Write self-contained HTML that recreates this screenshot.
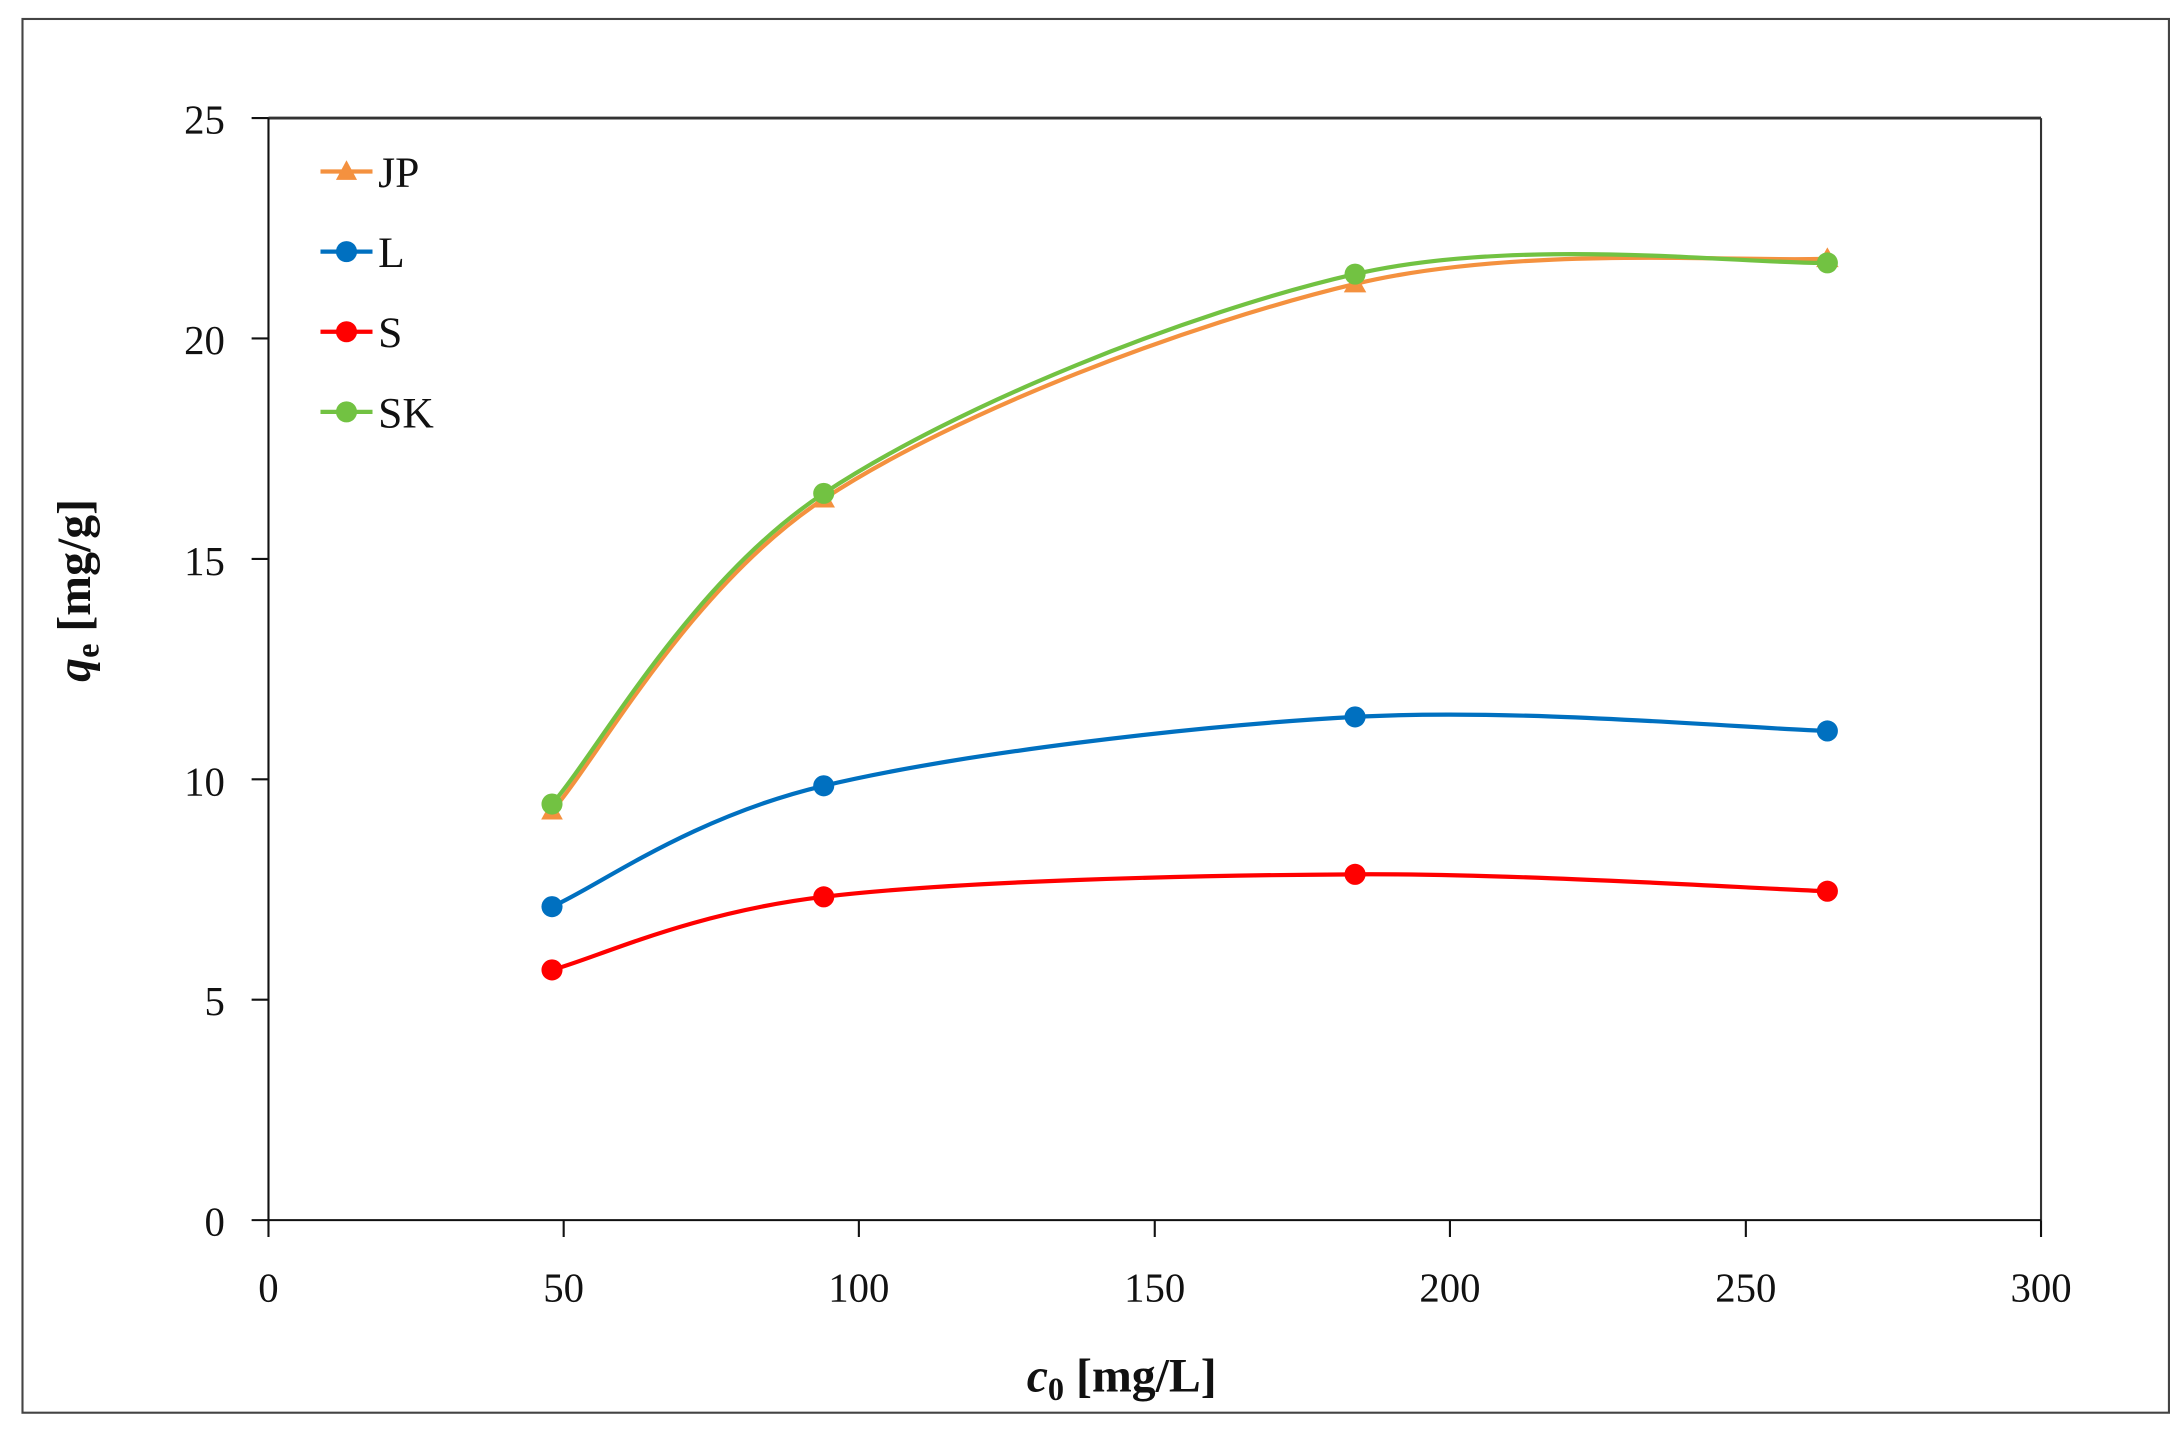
<!DOCTYPE html>
<html><head><meta charset="utf-8"><style>html,body{margin:0;padding:0;background:#fff}svg{display:block}</style></head>
<body>
<svg width="2183" height="1430" viewBox="0 0 1553 1017.3" preserveAspectRatio="none" xmlns="http://www.w3.org/2000/svg" font-family="Liberation Serif, serif">
<rect x="0" y="0" width="1553" height="1018" fill="#fff"/>
<rect x="16" y="13.5" width="1527" height="991.5" fill="none" stroke="#444" stroke-width="1.5"/>
<line x1="191" y1="84" x2="1452" y2="84" stroke="#333" stroke-width="2"/>
<line x1="1452" y1="84" x2="1452" y2="868" stroke="#333" stroke-width="1.5"/>
<line x1="191" y1="84" x2="191" y2="868" stroke="#111" stroke-width="1.5"/>
<line x1="191" y1="868" x2="1452" y2="868" stroke="#111" stroke-width="1.5"/>
<g stroke="#111" stroke-width="1.5">
<line x1="179" y1="84" x2="191" y2="84"/><line x1="179" y1="240.8" x2="191" y2="240.8"/><line x1="179" y1="397.6" x2="191" y2="397.6"/><line x1="179" y1="554.4" x2="191" y2="554.4"/><line x1="179" y1="711.2" x2="191" y2="711.2"/><line x1="179" y1="868" x2="191" y2="868"/>
<line x1="191" y1="868" x2="191" y2="880"/><line x1="401" y1="868" x2="401" y2="880"/><line x1="611" y1="868" x2="611" y2="880"/><line x1="821.5" y1="868" x2="821.5" y2="880"/><line x1="1031.5" y1="868" x2="1031.5" y2="880"/><line x1="1242" y1="868" x2="1242" y2="880"/><line x1="1452" y1="868" x2="1452" y2="880"/>
</g>
<g font-size="29" fill="#111" text-anchor="end">
<text x="160" y="95">25</text><text x="160" y="252">20</text><text x="160" y="409">15</text><text x="160" y="566">10</text><text x="160" y="722">5</text><text x="160" y="879">0</text>
</g>
<g font-size="29" fill="#111" text-anchor="middle">
<text x="191" y="926">0</text><text x="401" y="926">50</text><text x="611" y="926">100</text><text x="821.5" y="926">150</text><text x="1031.5" y="926">200</text><text x="1242" y="926">250</text><text x="1452" y="926">300</text>
</g>
<text x="798" y="990" font-size="34" font-weight="bold" text-anchor="middle" fill="#111"><tspan font-style="italic">c</tspan><tspan font-size="23" dy="6">0</tspan><tspan dy="-6"> [mg/L]</tspan></text>
<text transform="translate(64,420) rotate(-90)" font-size="34" font-weight="bold" text-anchor="middle" fill="#111"><tspan font-style="italic">q</tspan><tspan font-size="23" dy="6">e</tspan><tspan dy="-6"> [mg/g]</tspan></text>
<g fill="none" stroke-width="3">
<path d="M392.7,577 C425,540 490.8,417.5 586,355 C681,292.5 845,230.5 964,202 C1083,173.5 1244,187 1300,184" stroke="#F4913F"/>
<path d="M392.7,572 C425,535.2 490.8,413.8 586,351 C681,288.2 845,222.3 964,195 C1083,167.7 1244,188.3 1300,187" stroke="#72C242"/>
<path d="M392.7,645 C425,631 490.8,581.5 586,559 C681,536.5 845,516.5 964,510 C1083,503.5 1244,518.3 1300,520" stroke="#0070C0"/>
<path d="M392.7,690 C425,681.3 490.8,649.3 586,638 C681,626.7 845,622.7 964,622 C1083,621.3 1244,632 1300,634" stroke="#FF0000"/>
</g>
<g fill="#F4913F"><polygon points="392.7,569 385,583 400.4,583"/><polygon points="586,347 578,361 594,361"/><polygon points="964,194 956,208 972,208"/><polygon points="1300,176 1292,190 1308,190"/></g>
<g fill="#72C242"><circle cx="392.7" cy="572" r="7.5"/><circle cx="586" cy="351" r="7.5"/><circle cx="964" cy="195" r="7.5"/><circle cx="1300" cy="187" r="7.5"/></g>
<g fill="#0070C0"><circle cx="392.7" cy="645" r="7.5"/><circle cx="586" cy="559" r="7.5"/><circle cx="964" cy="510" r="7.5"/><circle cx="1300" cy="520" r="7.5"/></g>
<g fill="#FF0000"><circle cx="392.7" cy="690" r="7.5"/><circle cx="586" cy="638" r="7.5"/><circle cx="964" cy="622" r="7.5"/><circle cx="1300" cy="634" r="7.5"/></g>
<g stroke-width="3">
<line x1="228" y1="122" x2="265" y2="122" stroke="#F4913F"/><polygon points="246.5,114 239,128 254,128" fill="#F4913F"/>
<line x1="228" y1="179" x2="265" y2="179" stroke="#0070C0"/><circle cx="246.5" cy="179" r="7.5" fill="#0070C0"/>
<line x1="228" y1="236" x2="265" y2="236" stroke="#FF0000"/><circle cx="246.5" cy="236" r="7.5" fill="#FF0000"/>
<line x1="228" y1="293" x2="265" y2="293" stroke="#72C242"/><circle cx="246.5" cy="293" r="7.5" fill="#72C242"/>
</g>
<g font-size="31" fill="#111">
<text x="269" y="133">JP</text><text x="269" y="190">L</text><text x="269" y="247">S</text><text x="269" y="304">SK</text>
</g>
</svg>
</body></html>
